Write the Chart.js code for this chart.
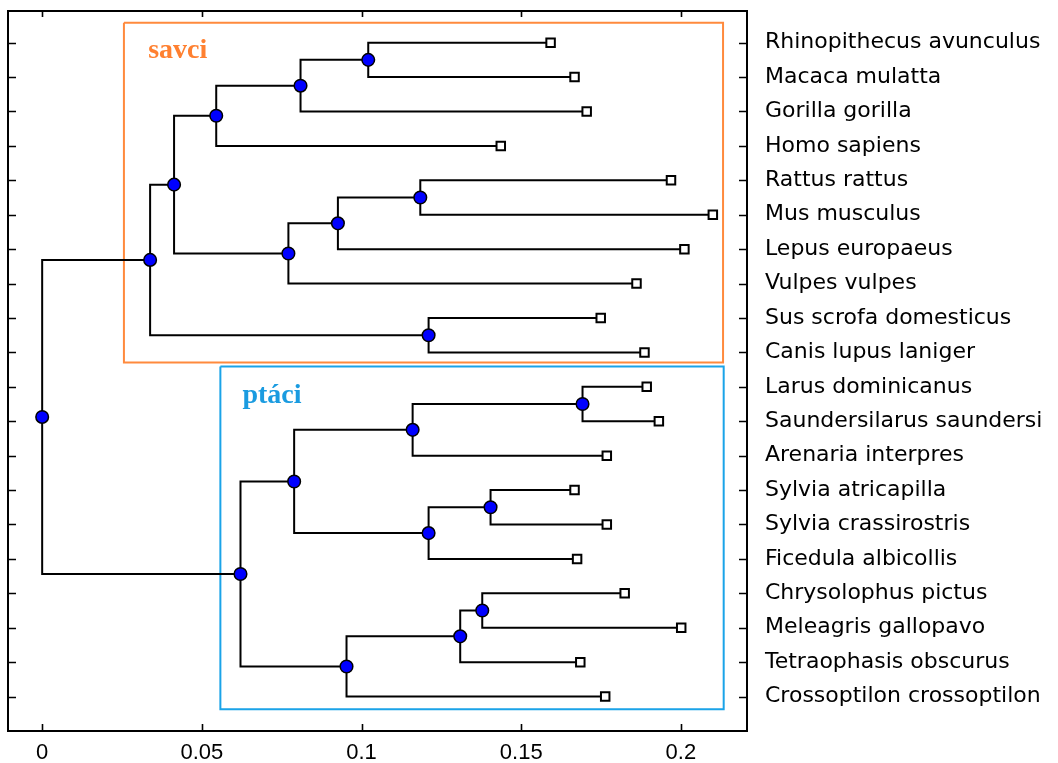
<!DOCTYPE html>
<html>
<head>
<meta charset="utf-8">
<script src="https://cdn.jsdelivr.net/npm/chart.js@4/dist/chart.umd.min.js"></script>
<style>
  html, body { margin: 0; padding: 0; background: #ffffff; }
  #wrap { width: 1058px; height: 763px; position: relative; }
</style>
</head>
<body>
<div id="wrap"><canvas id="c" width="1058" height="763"></canvas></div>
<script>
// ---- data ----
const leafNames = [
  'Rhinopithecus avunculus', 'Macaca mulatta', 'Gorilla gorilla', 'Homo sapiens',
  'Rattus rattus', 'Mus musculus', 'Lepus europaeus', 'Vulpes vulpes',
  'Sus scrofa domesticus', 'Canis lupus laniger', 'Larus dominicanus',
  'Saundersilarus saundersi', 'Arenaria interpres', 'Sylvia atricapilla',
  'Sylvia crassirostris', 'Ficedula albicollis', 'Chrysolophus pictus',
  'Meleagris gallopavo', 'Tetraophasis obscurus', 'Crossoptilon crossoptilon'
];
const leafDistance = [
  0.1592, 0.1667, 0.1705, 0.1436, 0.1969, 0.2100, 0.2011, 0.1861, 0.1749, 0.1886,
  0.1893, 0.1931, 0.1768, 0.1667, 0.1768, 0.1675, 0.1824, 0.2001, 0.1685, 0.1763
];
// internal nodes: ids 20..38 ; children refer to leaf index (0..19) or node id (20..)
const nodeDistance = [
  0.1021, 0.0809, 0.0545, 0.1184, 0.0926, 0.0771, 0.0413, 0.1210, 0.0338,
  0.1692, 0.1160, 0.1404, 0.1210, 0.0789, 0.1378, 0.1309, 0.0953, 0.0621, 0.0
];
const nodeChildA = [0, 20, 21, 4, 23, 24, 22, 8, 26, 10, 29, 13, 31, 30, 16, 34, 35, 33, 28];
const nodeChildB = [1, 2, 3, 5, 6, 7, 25, 9, 27, 11, 12, 14, 15, 32, 17, 18, 19, 36, 37];
const tickValues = [0, 0.05, 0.1, 0.15, 0.2];
const tickLabels = ['0', '0.05', '0.1', '0.15', '0.2'];
const groupNames = ['savci', 'ptáci'];

// ---- layout / style options ----
const groupBoxes = [
  { x0: 0.0256, x1: 0.2132, y0: 0.42, y1: 10.29, color: '#FF8A3D', labelX: 0.0332, labelY: 1.45, textColor: '#FF8030' },
  { x0: 0.0558, x1: 0.2134, y0: 10.41, y1: 20.37, color: '#1AA3E8', labelX: 0.0627, labelY: 11.47, textColor: '#1A9BE0' }
];

// ---- build tree geometry ----
const nLeaf = leafNames.length;
function posX(id) { return id < nLeaf ? leafDistance[id] : nodeDistance[id - nLeaf]; }
const yCache = {};
function posY(id) {
  if (id < nLeaf) return id + 1;
  if (yCache[id] !== undefined) return yCache[id];
  const k = id - nLeaf;
  const v = (posY(nodeChildA[k]) + posY(nodeChildB[k])) / 2;
  yCache[id] = v;
  return v;
}

const leafPoints = leafNames.map((_, i) => ({ x: posX(i), y: posY(i) }));
const nodePoints = nodeDistance.map((_, k) => ({ x: posX(k + nLeaf), y: posY(k + nLeaf) }));

const linkDatasets = [];
nodeDistance.forEach((_, k) => {
  const pid = k + nLeaf;
  [nodeChildA[k], nodeChildB[k]].forEach(cid => {
    linkDatasets.push({
      type: 'scatter',
      data: [
        { x: posX(pid), y: posY(pid) },
        { x: posX(pid), y: posY(cid) },
        { x: posX(cid), y: posY(cid) }
      ],
      showLine: true,
      borderColor: '#000000',
      borderWidth: 2,
      pointRadius: 0,
      pointHoverRadius: 0,
      fill: false,
      tension: 0
    });
  });
});

const boxDatasets = groupBoxes.map(b => ({
  type: 'scatter',
  data: [
    { x: b.x0, y: b.y0 }, { x: b.x1, y: b.y0 }, { x: b.x1, y: b.y1 },
    { x: b.x0, y: b.y1 }, { x: b.x0, y: b.y0 }
  ],
  showLine: true,
  borderColor: b.color,
  borderWidth: 2,
  pointRadius: 0,
  pointHoverRadius: 0,
  fill: false,
  tension: 0
}));

const frameAndTicks = {
  id: 'frameAndTicks',
  afterDatasetsDraw(chart) {
    const { ctx, chartArea: a, scales } = chart;
    ctx.save();
    ctx.strokeStyle = '#000000';
    ctx.lineWidth = 2;
    ctx.strokeRect(a.left, a.top, a.right - a.left, a.bottom - a.top);
    ctx.lineWidth = 1.6;
    ctx.beginPath();
    tickValues.forEach(v => {
      const px = Math.round(scales.x.getPixelForValue(v)) + 0.5;
      ctx.moveTo(px, a.bottom); ctx.lineTo(px, a.bottom - 7);
      ctx.moveTo(px, a.top); ctx.lineTo(px, a.top + 6);
    });
    leafNames.forEach((_, i) => {
      const py = Math.round(scales.y.getPixelForValue(i + 1)) + 0.5;
      ctx.moveTo(a.left, py); ctx.lineTo(a.left + 8, py);
      ctx.moveTo(a.right, py); ctx.lineTo(a.right - 8, py);
    });
    ctx.stroke();
    // group labels
    ctx.font = 'bold 28px "Liberation Serif", "DejaVu Serif", serif';
    ctx.textAlign = 'left';
    ctx.textBaseline = 'alphabetic';
    groupBoxes.forEach((b, i) => {
      ctx.fillStyle = b.textColor;
      ctx.fillText(groupNames[i], scales.x.getPixelForValue(b.labelX), scales.y.getPixelForValue(b.labelY));
    });
    ctx.restore();
  }
};

new Chart(document.getElementById('c'), {
  type: 'scatter',
  data: {
    datasets: [
      {
        data: nodePoints,
        pointStyle: 'circle',
        pointRadius: 6.3,
        pointHoverRadius: 6.3,
        backgroundColor: '#0000FF',
        borderColor: '#000000',
        borderWidth: 1.5,
        showLine: false
      },
      {
        data: leafPoints,
        pointStyle: 'rect',
        pointRadius: 6,
        pointHoverRadius: 6,
        backgroundColor: '#FFFFFF',
        borderColor: '#000000',
        borderWidth: 2,
        showLine: false
      },
      ...linkDatasets,
      ...boxDatasets
    ]
  },
  options: {
    responsive: false,
    animation: false,
    events: [],
    layout: { padding: { left: 8, top: 11, right: 0, bottom: 0 } },
    plugins: { legend: { display: false }, tooltip: { enabled: false } },
    scales: {
      x: {
        type: 'linear',
        position: 'bottom',
        min: -0.0107,
        max: 0.2207,
        grid: { display: false, drawTicks: false },
        border: { display: false },
        afterBuildTicks: s => { s.ticks = tickValues.map(v => ({ value: v })); },
        afterFit: s => { s.height = 32; s.paddingLeft = 0; s.paddingRight = 0; },
        ticks: {
          padding: 9,
          color: '#000000',
          font: { family: '"Liberation Sans", Arial, sans-serif', size: 22 },
          callback: (v) => { const i = tickValues.indexOf(v); return i >= 0 ? tickLabels[i] : ''; }
        }
      },
      y: {
        type: 'linear',
        position: 'right',
        reverse: true,
        min: 0.08,
        max: 21,
        grid: { display: false, drawTicks: false },
        border: { display: false },
        afterBuildTicks: s => { s.ticks = leafNames.map((_, i) => ({ value: i + 1 })); },
        afterFit: s => { s.width = 311; s.paddingTop = 0; s.paddingBottom = 0; },
        ticks: {
          padding: 18,
          color: '#000000',
          autoSkip: false,
          font: { family: '"DejaVu Sans", sans-serif', size: 22 },
          callback: (v) => leafNames[v - 1] || ''
        }
      }
    }
  },
  plugins: [frameAndTicks]
});
</script>
</body>
</html>
